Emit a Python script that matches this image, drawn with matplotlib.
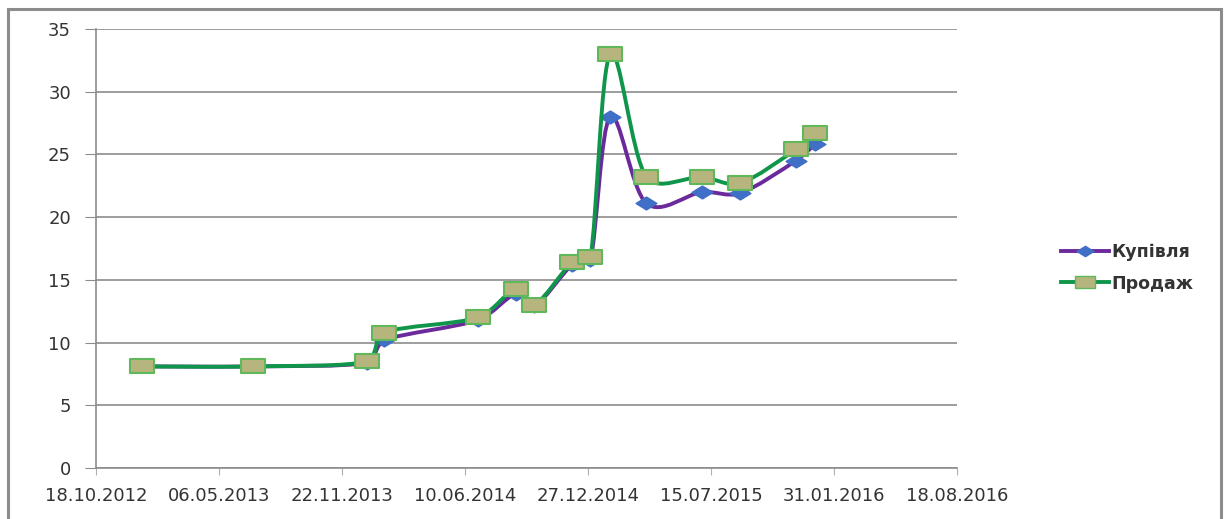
import matplotlib
matplotlib.use('Agg')
import matplotlib.pyplot as plt
import matplotlib.dates as mdates
from matplotlib.path import Path
from matplotlib.patches import PathPatch, Rectangle
from matplotlib.lines import Line2D
import numpy as np
import datetime as dt

# %% data
dates = ['2013-01-01', '2013-07-01', '2014-01-01', '2014-01-30', '2014-07-01',
         '2014-09-01', '2014-10-01', '2014-12-01', '2014-12-31', '2015-02-01',
         '2015-04-01', '2015-06-30', '2015-08-31', '2015-11-30', '2015-12-31']
kupivlia = [8.1, 8.1, 8.4, 10.2, 11.8, 13.9, 12.9, 16.2, 16.6, 28.0,
            21.1, 22.0, 21.9, 24.5, 25.8]
prodazh = [8.1, 8.1, 8.5, 10.8, 12.0, 14.3, 13.0, 16.4, 16.8, 33.0,
           23.2, 23.2, 22.7, 25.4, 26.7]
series_names = ['Купівля', 'Продаж']
tick_start = dt.date(2012, 10, 18)
tick_step_days = 200
n_ticks = 8


def smooth_path(ax, x, y, clamp=0.35):
    """Smoothed line like Excel: Catmull-Rom Bezier built in pixel space,
    control arms limited by the length of the segment."""
    p = ax.transData.transform(np.column_stack([x, y]))
    n = len(p)
    t = np.array([(p[min(i + 1, n - 1)] - p[max(i - 1, 0)]) / 6
                  for i in range(n)])
    verts = [p[0]]
    codes = [Path.MOVETO]
    for i in range(n - 1):
        seg = np.hypot(*(p[i + 1] - p[i]))
        a1, a2 = t[i].copy(), t[i + 1].copy()
        for a in (a1, a2):
            m = np.hypot(*a)
            if m > clamp * seg:
                a *= clamp * seg / m
        verts += [p[i] + a1, p[i + 1] - a2, p[i + 1]]
        codes += [Path.CURVE4] * 3
    verts = ax.transData.inverted().transform(np.array(verts))
    return Path(verts, codes)


xd = mdates.date2num([dt.date.fromisoformat(d) for d in dates])

fig = plt.figure(figsize=(12.24, 5.19), dpi=100)
ax = fig.add_axes([96/1224, 1-468/519, (957-96)/1224, (468-29)/519])

fig.patches.append(Rectangle((8/1224, -0.01), (1221-8)/1224, 1-9/519+0.01,
                             transform=fig.transFigure, fill=False,
                             edgecolor='#8c8c8c', lw=2.2))

ticks = [mdates.date2num(tick_start + dt.timedelta(days=tick_step_days*k))
         for k in range(n_ticks)]
ax.set_xlim(ticks[0], ticks[-1])
ax.set_xticks(ticks)
ax.xaxis.set_major_formatter(mdates.DateFormatter('%d.%m.%Y'))
ax.set_ylim(0, 35)
ax.set_yticks(range(0, 36, 5))

# wide markers (the original picture is stretched sideways)
rect = Path([(-1, -0.62), (1, -0.62), (1, 0.62), (-1, 0.62), (-1, -0.62)],
            [Path.MOVETO, Path.LINETO, Path.LINETO, Path.LINETO,
             Path.CLOSEPOLY])
diam = Path([(-1, 0), (0, 0.62), (1, 0), (0, -0.62), (-1, 0)],
            [Path.MOVETO, Path.LINETO, Path.LINETO, Path.LINETO,
             Path.CLOSEPOLY])

purple = '#6a2a9c'
green = '#10964a'
blue = '#3f6fc6'
khaki = '#b7b57e'
edge = '#5fb85a'
ax.add_patch(PathPatch(smooth_path(ax, xd, kupivlia), fill=False,
                       edgecolor=purple, lw=2.8, zorder=3))
ax.plot(xd, kupivlia, ls='none', marker=diam, ms=15, color=blue,
        mec=blue, zorder=4)
ax.add_patch(PathPatch(smooth_path(ax, xd, prodazh), fill=False,
                       edgecolor=green, lw=2.8, zorder=5))
ax.plot(xd, prodazh, ls='none', marker=rect, ms=17, color=khaki,
        mec=edge, mew=1.5, zorder=6)

ax.grid(axis='y', color='#8c8c8c', lw=1.2)
ax.set_axisbelow(True)
for s in ['top', 'right']:
    ax.spines[s].set_visible(False)
for s in ['left', 'bottom']:
    ax.spines[s].set_color('#8c8c8c')
    ax.spines[s].set_linewidth(1.2)
ax.tick_params(axis='y', length=8, color='#8c8c8c', pad=10,
               labelsize=13, labelcolor='#333333')
ax.tick_params(axis='x', length=5, color='#b0b0b0', pad=9,
               labelsize=13, labelcolor='#333333')

handles = [Line2D([], [], color=purple, lw=2.8, marker=diam, ms=12,
                  mfc=blue, mec=blue),
           Line2D([], [], color=green, lw=2.8, marker=rect, ms=14,
                  mfc=khaki, mec=edge)]
fig.legend(handles, series_names, loc='center left',
           bbox_to_anchor=(1045/1224, 1-268/519), frameon=False,
           handlelength=2.8, handletextpad=0.1, labelspacing=0.75,
           prop={'size': 12.5, 'weight': 'bold'}, labelcolor='#333333')

fig.savefig('out.png', dpi=100)
